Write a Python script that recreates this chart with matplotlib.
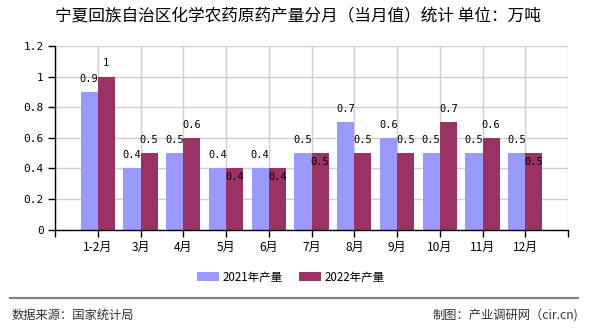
import matplotlib
matplotlib.use("Agg")
import matplotlib.pyplot as plt
from matplotlib.patches import Patch
import numpy as np

plt.rcParams['font.family'] = ['Noto Sans CJK SC', 'DejaVu Sans']

categories = ["1-2月", "3月", "4月", "5月", "6月", "7月", "8月", "9月", "10月", "11月", "12月"]
values_2021 = [0.9, 0.4, 0.5, 0.4, 0.4, 0.5, 0.7, 0.6, 0.5, 0.5, 0.5]
values_2022 = [1, 0.5, 0.6, 0.4, 0.4, 0.5, 0.5, 0.5, 0.7, 0.6, 0.5]
series_names = ["2021年产量", "2022年产量"]
yticks = [0, 0.2, 0.4, 0.6, 0.8, 1.0, 1.2]
ytick_labels = ["0", "0.2", "0.4", "0.6", "0.8", "1", "1.2"]
title = "宁夏回族自治区化学农药原药产量分月（当月值）统计 单位：万吨"
source = "数据来源：国家统计局"
credit = "制图：产业调研网（cir.cn)"

c1 = "#9999FF"
c2 = "#993366"

fig = plt.figure(figsize=(5.9, 3.3), dpi=100)
ax = fig.add_axes([55/590, 1-229.5/330, (568-55)/590, (229.5-46)/330])

x = np.arange(len(categories))
w = 0.4
ax.bar(x - w, values_2021, width=w, align='edge', color=c1, zorder=3)
ax.bar(x, values_2022, width=w, align='edge', color=c2, zorder=3)

mono = dict(family='DejaVu Sans Mono', fontsize=7.5, color='black')
fmt = lambda v: ("%g" % v)
for i, (a, b) in enumerate(zip(values_2021, values_2022)):
    ax.annotate(fmt(a), (i - w/2, a), xytext=(0, 9.5), textcoords='offset points',
                ha='center', va='center', zorder=5, **mono)
    if a == b:
        ax.annotate(fmt(b), (i + w/2, b), xytext=(0, -6.5), textcoords='offset points',
                    ha='center', va='center', zorder=5, **mono)
    else:
        ax.annotate(fmt(b), (i + w/2, b), xytext=(0, 9.5), textcoords='offset points',
                    ha='center', va='center', zorder=5, **mono)

ax.set_xlim(-1, len(categories))
ax.set_ylim(0, 1.2)
ax.set_xticks(np.arange(-1, len(categories) + 1))
ax.set_xticklabels([""] + categories + [""], fontsize=8.6)
ax.set_yticks(yticks)
ax.set_yticklabels(ytick_labels, family='DejaVu Sans Mono', fontsize=8)
ax.tick_params(axis='both', direction='out', length=5, width=1, color='black', pad=3)
ax.grid(True, color='#d0d0d0', linewidth=1, zorder=0)
for s in ['top', 'right']:
    ax.spines[s].set_visible(False)
for s in ['left', 'bottom']:
    ax.spines[s].set_color('black')
    ax.spines[s].set_linewidth(1)
    ax.spines[s].set_zorder(4)

fig.text(297.5/590, 1-17/330, title, ha='center', va='center', fontsize=12, color='black',
         fontweight='medium')

handles = [Patch(facecolor=c1), Patch(facecolor=c2)]
fig.legend(handles, series_names, loc='center', bbox_to_anchor=(291/590, 1-277/330), ncol=2,
           frameon=False, fontsize=8.3, handlelength=1.9, handleheight=0.8,
           handletextpad=0.35, columnspacing=1.4)

fig.add_artist(plt.Line2D([10/590, 578/590], [1-297.5/330, 1-297.5/330], transform=fig.transFigure,
                          color='#808080', linewidth=1.5))
fig.text(12/590, 1-315/330, source, ha='left', va='center', fontsize=8.8, color='#333333')
fig.text(578/590, 1-315/330, credit, ha='right', va='center', fontsize=8.8, color='#333333')

fig.savefig("out.png", dpi=100)
